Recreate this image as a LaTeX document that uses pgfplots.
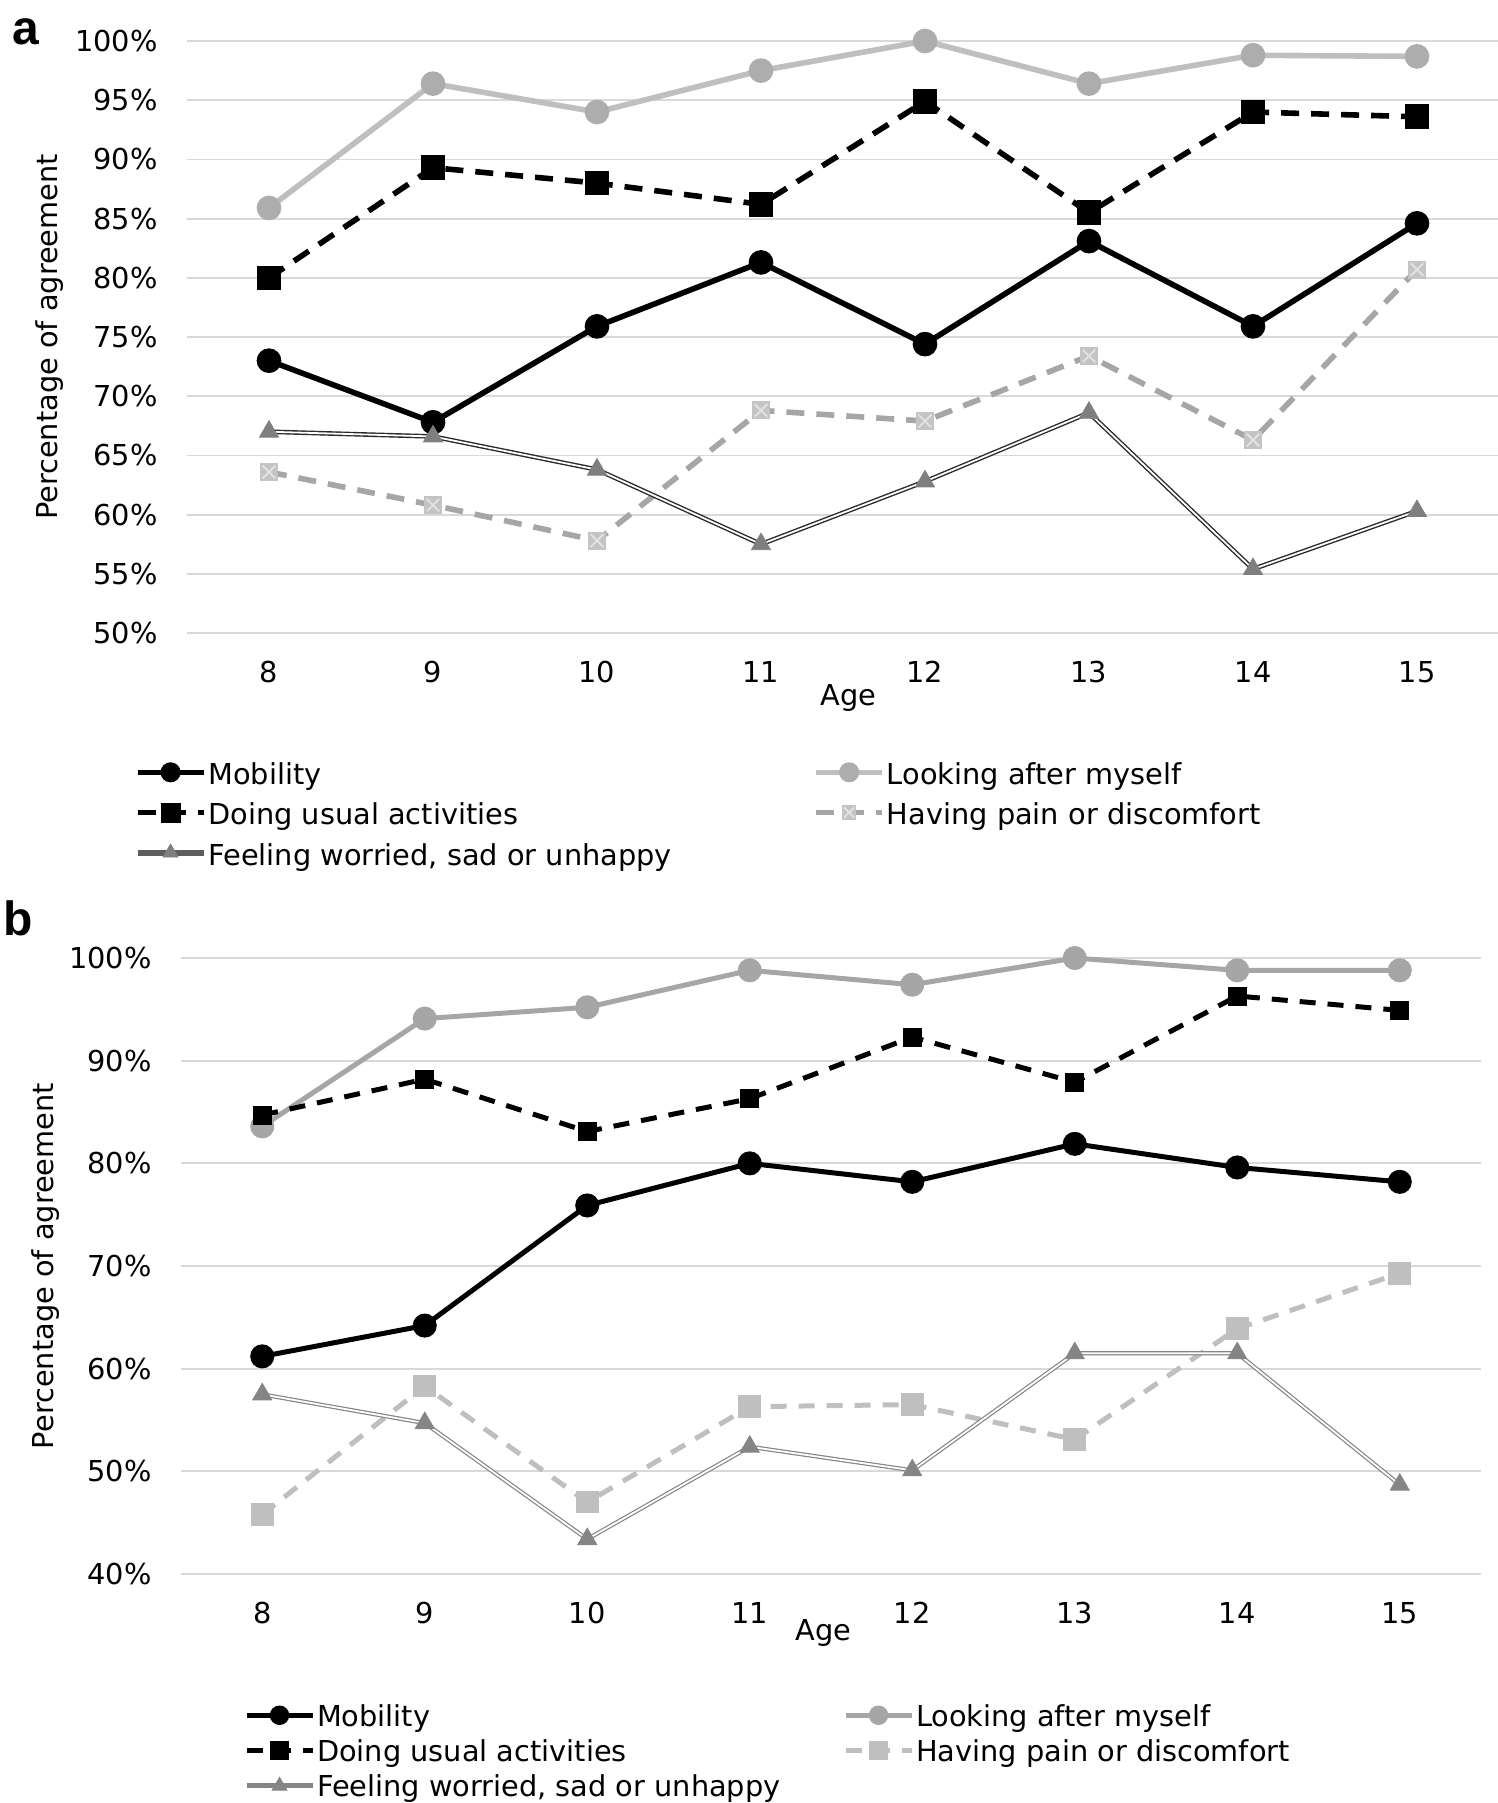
\documentclass[border=0pt]{standalone}
\usepackage{fontspec}
\setmainfont{DejaVu Sans}
\newfontfamily\panelfont{Liberation Sans}
\usepackage{pgfplots}
\pgfplotsset{compat=1.18}

\definecolor{gridc}{HTML}{D9D9D9}
\definecolor{lgA}{HTML}{BFBFBF}
\definecolor{lgAm}{HTML}{ADADAD}
\definecolor{mgA}{HTML}{A6A6A6}
\definecolor{painm}{HTML}{C4C4C4}
\definecolor{crossc}{HTML}{E3E3E3}
\definecolor{wline}{HTML}{2A2A2A}
\definecolor{wmark}{HTML}{7F7F7F}
\definecolor{wlegA}{HTML}{5E5E5E}
\definecolor{wB}{HTML}{858585}

\newcommand\fsz{\fontsize{14.4pt}{16pt}\selectfont}

% square with a light cross, for "pain" in panel a
\pgfdeclareplotmark{xsquare}{%
  \pgfpathrectangle{\pgfqpoint{-\pgfplotmarksize}{-\pgfplotmarksize}}%
    {\pgfqpoint{2\pgfplotmarksize}{2\pgfplotmarksize}}%
  \pgfusepathqfill
  \begin{pgfscope}
  \pgfsetstrokecolor{crossc}\pgfsetlinewidth{0.9pt}%
  \pgfpathmoveto{\pgfqpoint{-0.7\pgfplotmarksize}{-0.7\pgfplotmarksize}}%
  \pgfpathlineto{\pgfqpoint{0.7\pgfplotmarksize}{0.7\pgfplotmarksize}}%
  \pgfpathmoveto{\pgfqpoint{-0.7\pgfplotmarksize}{0.7\pgfplotmarksize}}%
  \pgfpathlineto{\pgfqpoint{0.7\pgfplotmarksize}{-0.7\pgfplotmarksize}}%
  \pgfusepathqstroke
  \end{pgfscope}
}

\pgfplotsset{
  base/.style={
    scale only axis, clip=false,
    xmin=7.5, xmax=15.5, xtick={8,...,15},
    axis line style={draw=none}, major tick length=0pt,
    ymajorgrids, major grid style={gridc, line width=0.9pt},
    tick label style={font=\fsz},
    /pgf/number format/assume math mode=true,
    yticklabel={\pgfmathprintnumber{\tick}\%},
    yticklabel style={anchor=east, inner sep=0pt, xshift=-14.5pt},
    xticklabel style={anchor=north, inner sep=0pt, yshift=-14pt},
    legend columns=2,
    legend cell align=left,
    legend image code/.code={\draw[mark repeat=2,mark phase=2,##1,mark size=3.6pt] plot coordinates {(0pt,0pt)(16.5pt,0pt)(33pt,0pt)};},
    legend style={draw=none, fill=none, inner sep=0pt, outer sep=0pt, font=\fsz,
      anchor=north west, /tikz/column sep=0pt,
      /tikz/every odd column/.style={column sep=-1pt},
      /tikz/every even column/.style={column sep=4pt}},
  },
  wlegimgA/.style={legend image code/.code={\draw[wlegA, line width=2.8pt] (0pt,0pt)--(33pt,0pt); \draw[##1, mark size=4.3pt] plot coordinates {(16.5pt,0pt)};}},
  wlegimgB/.style={legend image code/.code={\draw[wB, line width=2.5pt] (0pt,0pt)--(33pt,0pt); \draw[##1, mark size=4.3pt] plot coordinates {(16.5pt,0pt)};}},
}

\begin{document}
\begin{tikzpicture}
\path[use as bounding box] (0,0) rectangle (749pt,-901.5pt);

\node[anchor=base west, inner sep=0pt, font=\fontsize{24pt}{24pt}\selectfont\panelfont\bfseries] at (6pt,-22.5pt) {a};
\node[anchor=base west, inner sep=0pt, font=\fontsize{24pt}{24pt}\selectfont\panelfont\bfseries] at (1.5pt,-467.5pt) {b};

% ---------------- panel a ----------------
\begin{axis}[base, at={(93.5pt,-316.5pt)}, anchor=south west,
  width=656pt, height=296pt, ymin=50, ymax=100, ytick={50,55,...,100},
  xlabel={Age}, ylabel={Percentage of agreement},
  every axis x label/.style={at={(axis description cs:0.504,0)}, yshift=-32.5pt, anchor=center, font=\fsz},
  every axis y label/.style={at={(axis description cs:0,0.5)}, xshift=-68.5pt, rotate=90, anchor=center, font=\fsz},
  legend style={at={(axis description cs:-0.0398,-0.2027)}, /tikz/row sep=0.8pt}]

\addplot[black, line width=2.8pt, mark=*, mark size=4.75pt] coordinates {
 (8,73.0) (9,67.8) (10,75.9) (11,81.3) (12,74.4) (13,83.1) (14,75.9) (15,84.6)};
\addlegendentry{\makebox[296.5pt][l]{\rule[-6.2pt]{0pt}{20pt}Mobility}}

\addplot[lgA, line width=2.8pt, mark=*, mark size=4.75pt, mark options={fill=lgAm, draw=lgAm}] coordinates {
 (8,85.9) (9,96.4) (10,94.0) (11,97.5) (12,100) (13,96.4) (14,98.8) (15,98.7)};
\addlegendentry{\makebox[296.5pt][l]{\rule[-6.2pt]{0pt}{20pt}Looking after myself}}

\addplot[black, line width=2.8pt, dash pattern=on 9pt off 6pt, mark=square*, mark size=4.75pt, mark options={solid}] coordinates {
 (8,80.0) (9,89.3) (10,88.0) (11,86.2) (12,94.9) (13,85.5) (14,94.0) (15,93.6)};
\addlegendentry{\makebox[296.5pt][l]{\rule[-6.2pt]{0pt}{20pt}Doing usual activities}}

\addplot[mgA, line width=2.8pt, dash pattern=on 9pt off 6pt, mark=xsquare, mark size=4.5pt, mark options={solid, fill=painm}] coordinates {
 (8,63.6) (9,60.8) (10,57.8) (11,68.8) (12,67.9) (13,73.4) (14,66.3) (15,80.7)};
\addlegendentry{\makebox[296.5pt][l]{\rule[-6.2pt]{0pt}{20pt}Having pain or discomfort}}

\addplot[wline, line width=0.7pt, double=white, double distance=0.9pt, forget plot] coordinates {
 (8,67.0) (9,66.6) (10,63.8) (11,57.5) (12,62.8) (13,68.6) (14,55.4) (15,60.3)};
\addplot[only marks, mark=triangle*, mark size=5.5pt, mark options={fill=wmark, draw=wmark}, wlegimgA] coordinates {
 (8,67.0) (9,66.6) (10,63.8) (11,57.5) (12,62.8) (13,68.6) (14,55.4) (15,60.3)};
\addlegendentry{\makebox[296.5pt][l]{\rule[-6.2pt]{0pt}{20pt}Feeling worried, sad or unhappy}}
\end{axis}

% ---------------- panel b ----------------
\begin{axis}[base, at={(90.5pt,-787pt)}, anchor=south west,
  width=650pt, height=308pt, ymin=40, ymax=100, ytick={40,50,...,100},
  xlabel={Age}, ylabel={Percentage of agreement},
  every axis x label/.style={at={(axis description cs:0.494,0)}, yshift=-29.5pt, anchor=center, font=\fsz},
  every axis y label/.style={at={(axis description cs:0,0.5)}, xshift=-67.5pt, rotate=90, anchor=center, font=\fsz},
  legend style={at={(axis description cs:0.0485,-0.2)}, /tikz/row sep=-0.4pt}]

\addplot[black, line width=2.5pt, mark=*, mark size=4.75pt] coordinates {
 (8,61.2) (9,64.2) (10,75.9) (11,80.0) (12,78.2) (13,81.9) (14,79.6) (15,78.2)};
\addlegendentry{\makebox[257pt][l]{\rule[-4.95pt]{0pt}{17.5pt}Mobility}}

\addplot[mgA, line width=2.5pt, mark=*, mark size=4.75pt] coordinates {
 (8,83.6) (9,94.1) (10,95.2) (11,98.8) (12,97.4) (13,100) (14,98.8) (15,98.8)};
\addlegendentry{\makebox[257pt][l]{\rule[-4.95pt]{0pt}{17.5pt}Looking after myself}}

\addplot[black, line width=2.5pt, dash pattern=on 8pt off 6pt, mark=square*, mark size=3.5pt, mark options={solid}] coordinates {
 (8,84.7) (9,88.2) (10,83.1) (11,86.3) (12,92.3) (13,87.9) (14,96.3) (15,94.9)};
\addlegendentry{\makebox[257pt][l]{\rule[-4.95pt]{0pt}{17.5pt}Doing usual activities}}

\addplot[lgA, line width=2.5pt, dash pattern=on 8pt off 6pt, mark=square*, mark size=4.4pt, mark options={solid}] coordinates {
 (8,45.8) (9,58.3) (10,47.0) (11,56.3) (12,56.5) (13,53.1) (14,63.9) (15,69.3)};
\addlegendentry{\makebox[257pt][l]{\rule[-4.95pt]{0pt}{17.5pt}Having pain or discomfort}}

\addplot[wB, line width=0.6pt, double=white, double distance=0.9pt, forget plot] coordinates {
 (8,57.5) (9,54.7) (10,43.4) (11,52.4) (12,50.1) (13,61.5) (14,61.5) (15,48.7)};
\addplot[only marks, mark=triangle*, mark size=5.5pt, mark options={fill=wB, draw=wB}, wlegimgB] coordinates {
 (8,57.5) (9,54.7) (10,43.4) (11,52.4) (12,50.1) (13,61.5) (14,61.5) (15,48.7)};
\addlegendentry{\makebox[257pt][l]{\rule[-4.95pt]{0pt}{17.5pt}Feeling worried, sad or unhappy}}
\end{axis}
\end{tikzpicture}
\end{document}
